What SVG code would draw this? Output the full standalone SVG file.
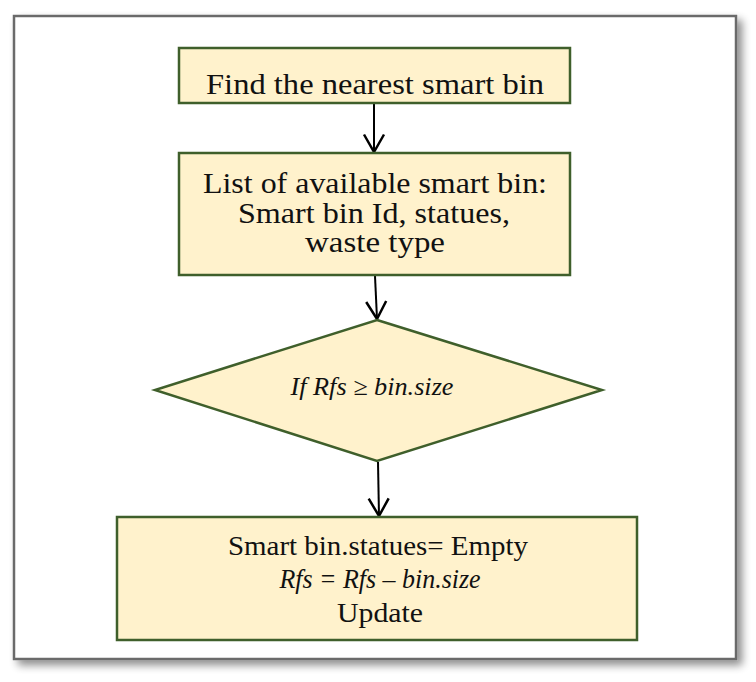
<svg xmlns="http://www.w3.org/2000/svg" width="756" height="682" viewBox="0 0 756 682">
<defs>
<style>
.box{fill:#FFF2CC;stroke:#3F5F2B;stroke-width:2.5}
.t{font-family:"Liberation Serif","Times New Roman",serif;fill:#111;text-anchor:middle}
.it{font-style:italic}
.conn{stroke:#000;stroke-width:2;fill:none}
</style>
<filter id="sh" x="-5%" y="-5%" width="115%" height="115%">
<feGaussianBlur in="SourceAlpha" stdDeviation="4"/>
<feOffset dx="5" dy="5" result="b"/>
<feComponentTransfer><feFuncA type="linear" slope="0.45"/></feComponentTransfer>
<feMerge><feMergeNode/><feMergeNode in="SourceGraphic"/></feMerge>
</filter>
<marker id="ah" markerUnits="userSpaceOnUse" markerWidth="30" markerHeight="30" viewBox="-16 -12 20 24" refX="0" refY="0" orient="auto">
<path d="M-14,-8 L0,0 L-14,8" fill="none" stroke="#000" stroke-width="2"/>
</marker>
</defs>
<rect x="0" y="0" width="756" height="682" fill="#fff"/>
<rect id="frame" x="14" y="16" width="722" height="643" fill="#fff" stroke="#6b6b6b" stroke-width="2.5" filter="url(#sh)"/>
<g id="connectors">
<line class="conn" x1="374" y1="104" x2="374" y2="152" marker-end="url(#ah)"/>
<line class="conn" x1="375" y1="276" x2="377" y2="319" marker-end="url(#ah)"/>
<line class="conn" x1="378" y1="462" x2="379" y2="516" marker-end="url(#ah)"/>
</g>
<g id="n1">
<rect class="box" x="179" y="48" width="391" height="55"/>
<text class="t" x="375" y="94" font-size="29" textLength="338" lengthAdjust="spacingAndGlyphs">Find the nearest smart bin</text>
</g>
<g id="n2">
<rect class="box" x="179" y="153" width="391" height="122"/>
<text class="t" x="375" y="193" font-size="29" textLength="344" lengthAdjust="spacingAndGlyphs">List of available smart bin:</text>
<text class="t" x="374" y="223" font-size="29" textLength="272" lengthAdjust="spacingAndGlyphs">Smart bin Id, statues,</text>
<text class="t" x="375" y="252" font-size="29" textLength="140" lengthAdjust="spacingAndGlyphs">waste type</text>
</g>
<g id="n3">
<polygon class="box" points="377,320 602,390 377,461 155,390"/>
<text class="t it" x="372" y="395" font-size="25" textLength="163" lengthAdjust="spacingAndGlyphs">If Rfs ≥ bin.size</text>
</g>
<g id="n4">
<rect class="box" x="117" y="517" width="520" height="123"/>
<text class="t" x="378" y="555" font-size="27" textLength="300" lengthAdjust="spacingAndGlyphs">Smart bin.statues= Empty</text>
<text class="t it" x="380" y="588" font-size="27" textLength="201" lengthAdjust="spacingAndGlyphs">Rfs = Rfs – bin.size</text>
<text class="t" x="380" y="622" font-size="27" textLength="86" lengthAdjust="spacingAndGlyphs">Update</text>
</g>
</svg>
